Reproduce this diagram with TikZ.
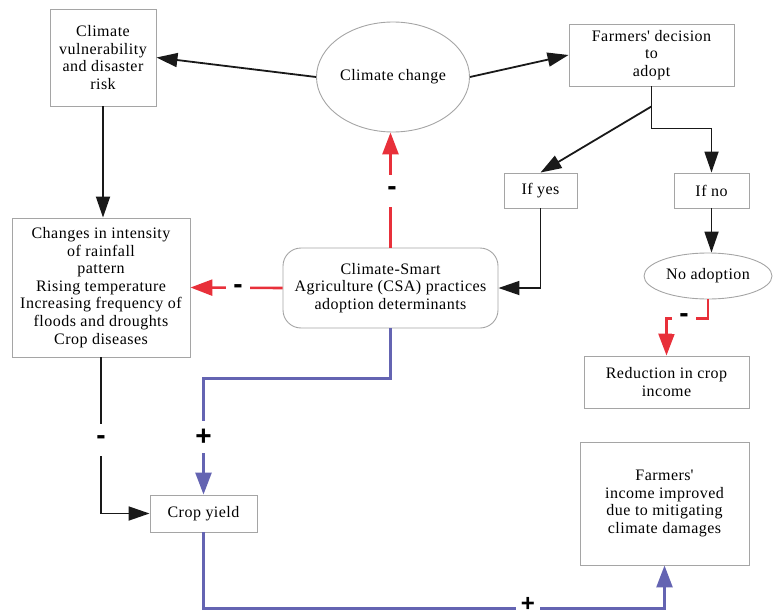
\documentclass[tikz,border=0pt]{standalone}
\usepackage{fontspec}
\setmainfont[LetterSpace=3]{Liberation Serif}
\newfontfamily\signfont{Liberation Sans}
\usetikzlibrary{arrows.meta,shapes.geometric,calc}
\definecolor{boxgray}{RGB}{165,165,165}
\definecolor{linkblue}{RGB}{100,100,178}
\definecolor{linkred}{RGB}{232,48,58}
\definecolor{linkblack}{RGB}{25,25,25}
\begin{document}
\begin{tikzpicture}[x=1pt,y=-1pt,
  every node/.style={font=\fontsize{16}{17.6}\selectfont, align=center, inner sep=0pt},
  box/.style={draw=boxgray, line width=0.9pt, rectangle},
  oval/.style={draw=boxgray, line width=0.9pt, ellipse},
  blk/.style={draw=linkblack, line width=1.8pt, -{Triangle[length=21pt,width=14pt]}},
  redl/.style={draw=linkred, line width=2.6pt, -{Triangle[length=22pt,width=16pt]}},
  bluel/.style={draw=linkblue, line width=2.6pt, -{Triangle[length=22pt,width=16pt]}},
  sign/.style={fill=white, font=\signfont\bfseries\fontsize{28}{28}\selectfont, minimum width=24pt, minimum height=32pt, inner sep=0pt},
  signlow/.style={fill=white, font=\signfont\bfseries\fontsize{24}{24}\selectfont, minimum width=24pt, minimum height=8pt, inner sep=0pt}
]
\useasboundingbox (0,0) rectangle (773,615);

\node[box, minimum width=106pt, minimum height=97pt] (vul) at (103,57.5) {Climate\\vulnerability\\and disaster\\risk};
\node[oval, minimum width=153pt, minimum height=110pt] (cc) at (393,77) {Climate change};
\node[box, minimum width=165pt, minimum height=62pt] (dec) at (651.5,55) {Farmers\textquotesingle{} decision\\to\\adopt};
\node[box, minimum width=73pt, minimum height=35pt] (yes) at (540.5,190.5) {If yes};
\node[box, minimum width=75pt, minimum height=35pt] (no) at (711.5,190.5) {If no};
\node[box, minimum width=178pt, minimum height=139pt] (chg) at (101,287.5) {Changes in intensity\\of rainfall\\pattern\\Rising temperature\\Increasing frequency of\\floods and droughts\\Crop diseases};
\node[box, rounded corners=18pt, minimum width=215pt, minimum height=80pt] (csa) at (390.5,288) {Climate-Smart\\Agriculture (CSA) practices\\adoption determinants};
\node[oval, minimum width=128pt, minimum height=46pt] (noad) at (708,276) {No adoption};
\node[box, minimum width=165pt, minimum height=52pt] (red) at (666.5,382) {Reduction in crop\\income};
\node[box, minimum width=107pt, minimum height=37pt] (cy) at (203.5,513.5) {Crop yield};
\node[box, minimum width=169pt, minimum height=123pt] (inc) at (664.5,503.5) {Farmers\textquotesingle\\income improved\\due to mitigating\\climate damages};

\coordinate (br) at ($(dec.south)+(0,20)$);
\draw[blk] (cc.west) -- (vul.east);
\draw[blk] (cc.east) -- (dec.west);
\draw[blk] (dec.south) -- ++(0,42) -| (no.north);
\draw[blk] (br) -- (yes.north);
\draw[blk] (yes.south) |- (csa.east);
\draw[blk] (no.south) -- (no.south |- noad.north);
\draw[blk] (vul.south) -- (vul.south |- chg.north);
\draw[blk] (chg.south) |- (cy.west);

\draw[redl] (csa.north) -- (csa.north |- cc.south);
\draw[redl] (csa.west) -- (chg.east);
\draw[redl] (noad.south) -- ++(0,19) -| (red.north);

\draw[bluel] (csa.south) -- ++(0,50) -| (cy.north);
\draw[bluel] (cy.south) -- ++(0,76) -| (inc.south);

\node[sign] (s1) at (392,191) {-};
\node[sign] (s2) at (238,289) {-};
\node[sign] (s3) at (684,318) {-};
\node[sign] (s4) at (101,440) {-};
\node[sign] (s5) at (203.5,437) {+};
\node[signlow] (s6) at (528,604) {+};
\end{tikzpicture}
\end{document}
